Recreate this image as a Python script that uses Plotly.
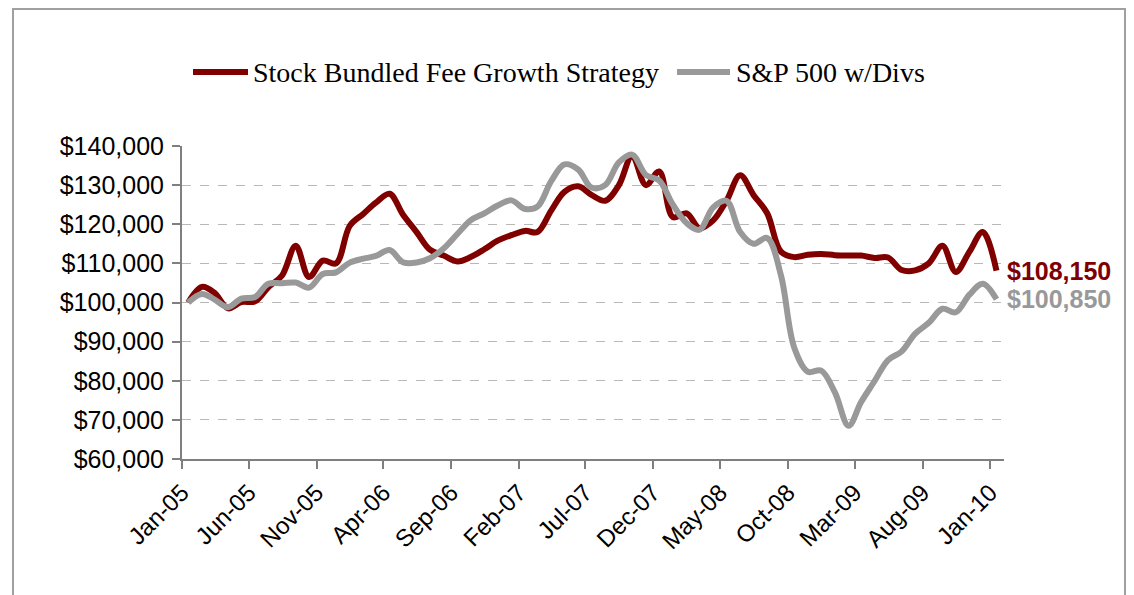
import plotly.graph_objects as go
import pandas as pd

# Monthly observations, Jan-05 .. Jan-10 (values in $ thousands), plotted mid-month
months = pd.date_range("2005-01-01", periods=61, freq="MS") + pd.Timedelta(days=14)
strategy = [100, 104, 102.5, 98.5, 100.1, 100.3, 103.9, 106.9, 114.5, 106.5,
            110.7, 110.0, 119.6, 122.7, 125.5, 127.8, 122.5, 118, 113.5, 112,
            110.5, 111.6, 113.6, 115.8, 117.2, 118.3, 118, 123.5, 128.3, 129.7,
            127.5, 126, 130, 137.5, 130, 133.5, 121.8, 122.8, 119, 121,
            126, 132.5, 127.5, 122.8, 113, 111.6, 112.2, 112.4, 112.1, 112,
            112, 111.4, 111.5, 108.3, 108.2, 110, 114.5, 107.8, 113, 118, 108.15]
sp500 = [100, 102.2, 100.8, 98.8, 101, 101.4, 104.8, 104.9, 105.1, 103.8,
         107.3, 107.7, 110.2, 111.2, 111.9, 113.4, 110.3, 110.2, 111.3, 113.8,
         117.5, 121, 122.8, 124.8, 126.1, 123.9, 124.5, 131, 135.3, 134,
         129.4, 130, 135.8, 137.8, 132.6, 131.2, 125, 120.3, 118.6, 124.3,
         126, 118, 115, 116.5, 107, 88.5, 82.3, 82.6, 77, 68.5,
         74.5, 80, 85.3, 87.5, 92, 94.8, 98.4, 97.5, 102, 104.8, 100.85]
strategy = [v * 1000 for v in strategy]
sp500 = [v * 1000 for v in sp500]

series_names = ["Stock Bundled Fee Growth Strategy", "S&P 500 w/Divs"]
series_colors = ["#800000", "#999999"]
tick_dates = pd.date_range("2005-01-01", "2010-01-01", freq="5MS")
tick_text = [d.strftime("%b-%y") for d in tick_dates]
end_labels = ["$108,150", "$100,850"]

fig = go.Figure()
for name, vals, col in [(series_names[0], strategy, series_colors[0]),
                        (series_names[1], sp500, series_colors[1])]:
    fig.add_trace(go.Scatter(x=months, y=vals, mode="lines", name=name,
                             line=dict(color=col, width=6, shape="spline", smoothing=1),
                             showlegend=False))

# end-value labels
for txt, vals, col in [(end_labels[0], strategy, series_colors[0]),
                       (end_labels[1], sp500, series_colors[1])]:
    fig.add_annotation(x=1.0, xref="paper", y=vals[-1], yref="y", text="<b>%s</b>" % txt,
                       showarrow=False, xanchor="left", yanchor="middle", xshift=1,
                       font=dict(family="Liberation Sans, Arial", size=25, color=col))

# manual legend
W, H = 822.0, 313.0
def px(x):
    return (x - 182) / W
def py(y):
    return (459 - y) / H
ly = py(72)
for (x0, x1, tx), name, col in [((193, 248, 251), series_names[0], series_colors[0]),
                                ((677, 730, 734), series_names[1], series_colors[1])]:
    fig.add_shape(type="line", xref="paper", yref="paper", x0=px(x0), x1=px(x1), y0=ly, y1=ly,
                  line=dict(color=col, width=6))
    fig.add_annotation(x=px(tx), y=ly, xref="paper", yref="paper", text=name, showarrow=False,
                       xanchor="left", yanchor="middle",
                       font=dict(family="Liberation Serif, Times New Roman", size=28, color="#000000"))

# outer frame (bottom edge runs off the canvas)
fig.add_shape(type="rect", xref="paper", yref="paper", x0=px(13), x1=px(1125), y0=py(610), y1=py(9),
              line=dict(color="#a0a0a0", width=2), fillcolor="rgba(0,0,0,0)", layer="below")

fig.update_layout(
    width=1134, height=595,
    margin=dict(l=182, r=130, t=146, b=136),
    paper_bgcolor="white", plot_bgcolor="white",
    showlegend=False,
)
fig.update_xaxes(type="date", range=["2005-01-01", "2010-02-01"],
                 tickvals=tick_dates, ticktext=tick_text, tickangle=-45,
                 showgrid=False, showline=True, linecolor="#7f7f7f", linewidth=2,
                 ticks="outside", ticklen=8, tickcolor="#7f7f7f", tickwidth=2,
                 tickfont=dict(family="Liberation Sans, Arial", size=24, color="#000000"))
fig.update_yaxes(range=[60000, 140000], dtick=10000, tickprefix="$", tickformat=",.0f",
                 showgrid=True, gridcolor="#b8b8b8", griddash="dash", gridwidth=1,
                 showline=True, linecolor="#7f7f7f", linewidth=2, zeroline=False,
                 ticks="outside", ticklen=8, tickcolor="#7f7f7f", tickwidth=2,
                 ticklabelstandoff=3,
                 tickfont=dict(family="Liberation Sans, Arial", size=25, color="#000000"))

fig.write_html("out.html")
